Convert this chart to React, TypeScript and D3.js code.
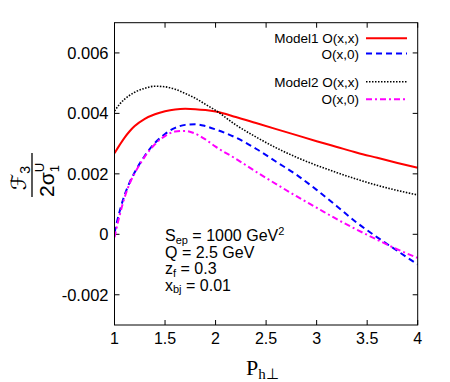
import React from 'react';
import * as d3 from 'd3';

// P_h⊥ grid shared by all curves
const pT = [1.0, 1.05, 1.1, 1.15, 1.2, 1.3, 1.4, 1.5, 1.6, 1.7, 1.8, 1.9, 2.0, 2.2, 2.4, 2.6, 2.8, 3.0, 3.2, 3.4, 3.6, 3.8, 4.0];

// F3 / (2 sigma_1^U)
const model1xx = [0.00268, 0.00295, 0.0032, 0.00341, 0.00358, 0.00382, 0.00397, 0.00407, 0.00413, 0.00415, 0.00414, 0.00411, 0.00406, 0.00388, 0.00368, 0.00348, 0.00328, 0.00308, 0.00289, 0.0027, 0.00253, 0.00236, 0.0022];
const model1x0 = [0.00005, 0.00075, 0.0013, 0.00172, 0.00205, 0.0026, 0.00302, 0.00332, 0.00352, 0.00362, 0.00364, 0.00358, 0.00347, 0.0032, 0.00283, 0.0024, 0.00197, 0.00147, 0.00093, 0.00038, -0.0001, -0.00055, -0.001];
const model2xx = [0.00408, 0.0043, 0.00447, 0.0046, 0.0047, 0.00483, 0.0049, 0.00488, 0.0048, 0.00466, 0.0045, 0.0043, 0.0041, 0.00362, 0.00322, 0.00286, 0.00255, 0.00228, 0.00204, 0.00182, 0.00162, 0.00145, 0.0013];
const model2x0 = [-0.0001, 0.00062, 0.00122, 0.00168, 0.00202, 0.00257, 0.00298, 0.00325, 0.0034, 0.00342, 0.00333, 0.00314, 0.0029, 0.0025, 0.00207, 0.00166, 0.00126, 0.00088, 0.0005, 0.00015, -0.00018, -0.0005, -0.00078];

const xTicks = [1, 1.5, 2, 2.5, 3, 3.5, 4];
const yTicks = [-0.002, 0, 0.002, 0.004, 0.006];

const series = [
  { label: 'Model1 O(x,x)', values: model1xx, color: '#ff0000', dash: null, width: 2 },
  { label: 'O(x,0)', values: model1x0, color: '#0000ff', dash: '6,4', width: 2 },
  { label: 'Model2 O(x,x)', values: model2xx, color: '#000000', dash: '1.5,1.5', width: 1.6 },
  { label: 'O(x,0)', values: model2x0, color: '#ff00ff', dash: '6,3,2,3', width: 2 },
];
const legendY = [38.3, 53.5, 81.7, 99.3];

const W = 450, H = 382;
const left = 114.5, right = 417.7, top = 22.7, bottom = 325;
const sans = '"Liberation Sans", Arial, sans-serif';
const serif = '"Liberation Serif", "Times New Roman", serif';

export default function App() {
  const x = d3.scaleLinear().domain([1, 4]).range([left, right]);
  const y = d3.scaleLinear().domain([-0.003, 0.007]).range([bottom, top]);
  const line = d3.line<number>()
    .x((_, i) => x(pT[i]))
    .y(d => y(d))
    .curve(d3.curveMonotoneX);
  const fmt = (d: number) => (d === 0 ? '0' : d.toFixed(3));

  return (
    <svg width={W} height={H} style={{ position: 'absolute', left: 0, top: 0, background: '#fff' }}>
      <defs>
        <clipPath id="plot">
          <rect x={left} y={top} width={right - left} height={bottom - top} />
        </clipPath>
      </defs>

      {/* ticks, mirrored on top and right */}
      {xTicks.map(t => (
        <g key={'x' + t} stroke="#000" strokeWidth={1}>
          <line x1={x(t)} x2={x(t)} y1={bottom} y2={bottom - 5} />
          <line x1={x(t)} x2={x(t)} y1={top} y2={top + 5} />
        </g>
      ))}
      {yTicks.map(t => (
        <g key={'y' + t} stroke="#000" strokeWidth={1}>
          <line x1={left} x2={left + 5} y1={y(t)} y2={y(t)} />
          <line x1={right} x2={right - 5} y1={y(t)} y2={y(t)} />
        </g>
      ))}
      {xTicks.map(t => (
        <text key={'xl' + t} x={x(t)} y={343.5} textAnchor="middle" fontFamily={sans} fontSize={16}>{t}</text>
      ))}
      {yTicks.map(t => (
        <text key={'yl' + t} x={108.5} y={y(t) + 6} textAnchor="end" fontFamily={sans} fontSize={16.5}>{fmt(t)}</text>
      ))}

      {/* curves */}
      <g clipPath="url(#plot)" fill="none">
        {series.map((s, i) => (
          <path key={i} d={line(s.values) || ''} stroke={s.color} strokeWidth={s.width}
            strokeDasharray={s.dash || undefined} />
        ))}
      </g>

      <rect x={left} y={top} width={right - left} height={bottom - top} fill="none" stroke="#000" strokeWidth={1} />

      {/* legend */}
      {series.map((s, i) => (
        <g key={'lg' + i}>
          <text x={359} y={legendY[i] + 5} textAnchor="end" fontFamily={sans} fontSize={13.5}>{s.label}</text>
          <line x1={366} x2={407} y1={legendY[i]} y2={legendY[i]} stroke={s.color} strokeWidth={s.width}
            strokeDasharray={s.dash || undefined} />
        </g>
      ))}

      {/* kinematics */}
      <g fontFamily={sans} fontSize={16}>
        <text x={165} y={241}>S<tspan fontSize={11} dy={2.5}>ep</tspan><tspan dy={-2.5}> = 1000 GeV</tspan><tspan fontSize={11} dy={-6}>2</tspan></text>
        <text x={165} y={257.5}>Q = 2.5 GeV</text>
        <text x={165} y={274}>z<tspan fontSize={11} dy={2.5}>f</tspan><tspan dy={-2.5}> = 0.3</tspan></text>
        <text x={165} y={290.5}>x<tspan fontSize={11} dy={2.5}>bj</tspan><tspan dy={-2.5}> = 0.01</tspan></text>
      </g>

      {/* axis titles */}
      <text x={246} y={375} fontFamily={serif} fontSize={22}>P<tspan fontSize={15} dy={4}>h⊥</tspan></text>
      <g transform="translate(32,175) rotate(-90)">
        <text x={-3} y={-6} textAnchor="middle" fontFamily='"DejaVu Sans", sans-serif' fontSize={21}>ℱ<tspan fontFamily={sans} fontSize={14} dy={4}>3</tspan></text>
        <line x1={-22} x2={22} y1={0} y2={0} stroke="#000" strokeWidth={1.3} />
        <text x={-22} y={22} fontFamily={sans} fontSize={21}>2σ<tspan fontSize={13} dy={5}>1</tspan><tspan fontSize={13} dx={-7} dy={-15}>U</tspan></text>
      </g>
    </svg>
  );
}
